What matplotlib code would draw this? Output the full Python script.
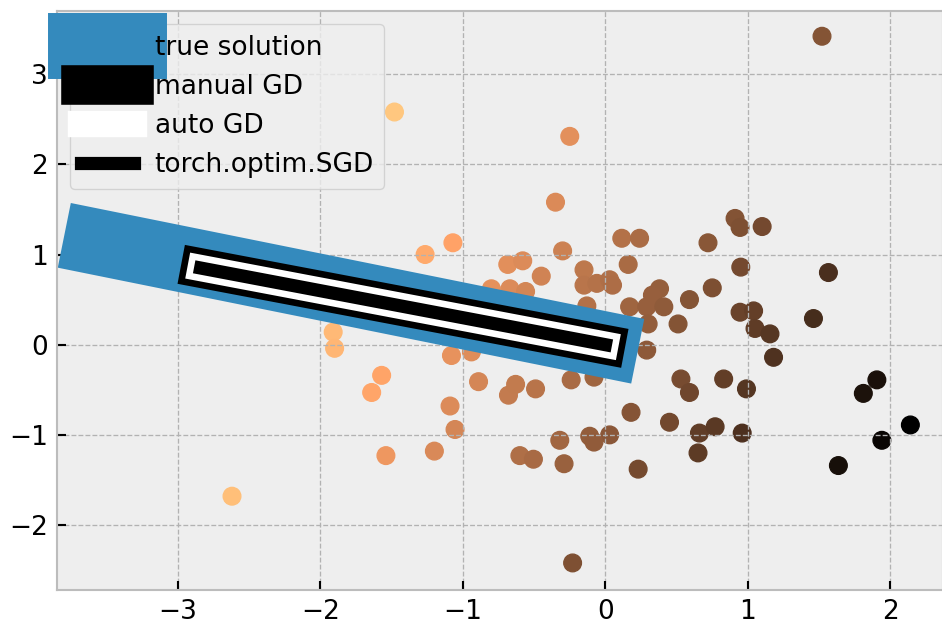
import matplotlib
matplotlib.use("Agg")
import matplotlib.pyplot as plt
import numpy as np

plt.style.use("bmh")

# scatter points
xs = [-1.48, -0.25, 1.52, -0.35, -1.07, -1.265, -0.685, -0.58, -0.30, -0.45,
      -0.15, 0.115, 0.24, 0.16, -0.15, -0.06, 0.03, 0.05, 0.38, 0.33,
      -0.80, -0.67, -0.56, -0.13, 0.17, 0.29, 0.41, 0.59, 0.91, 0.945,
      1.10, 0.72, 0.95, 1.565, 0.75, 0.945, 1.04, 1.05, 1.155, 1.46,
      1.18, 0.51, 0.30, 0.29, 0.53, 0.59, 0.83, 0.99, 1.905, 1.81,
      2.14, 1.94, 1.635, 0.18, 0.45, 0.66, 0.77, 0.96, 0.65, 0.23,
      0.03, -1.09, -1.055, -1.20, -1.54, -0.89, -0.68, -0.63, -0.49, -0.24,
      -0.08, -0.32, -0.60, -0.505, -0.29, -0.11, -0.08, -0.23, -1.64, -2.62,
      -1.91, -1.90, -1.08, -0.94, -1.57]
ys = [2.58, 2.31, 3.42, 1.58, 1.13, 1.00, 0.89, 0.93, 1.04, 0.76,
      0.83, 1.18, 1.18, 0.89, 0.66, 0.68, 0.72, 0.66, 0.62, 0.55,
      0.62, 0.62, 0.59, 0.43, 0.42, 0.42, 0.42, 0.50, 1.40, 1.30,
      1.31, 1.13, 0.86, 0.80, 0.63, 0.36, 0.375, 0.18, 0.12, 0.29,
      -0.14, 0.23, 0.23, -0.06, -0.38, -0.53, -0.38, -0.49, -0.39, -0.54,
      -0.89, -1.06, -1.34, -0.75, -0.86, -0.98, -0.91, -0.98, -1.20, -1.38,
      -1.00, -0.68, -0.94, -1.18, -1.23, -0.41, -0.56, -0.44, -0.49, -0.39,
      -0.36, -1.06, -1.23, -1.27, -1.32, -1.015, -1.08, -2.42, -0.53, -1.68,
      0.14, -0.04, -0.12, -0.08, -0.34]

# fitted lines (end points)
true_x = [-3.57, 0.0]
true_y = [1.14, 0.0]
gd_x = [-2.84, 0.0]
gd_y = [0.85, 0.0]

labels = ["true solution", "manual GD", "auto GD", "torch.optim.SGD"]

xs = np.array(xs)
ys = np.array(ys)
# colour by position along the solution direction
shade = xs - 0.317 * ys

fig = plt.figure(figsize=(943 / 190, 625 / 190), dpi=190)
ax = fig.add_axes([57 / 943, 1 - 590 / 625, 1 - 57 / 943, (590 - 11) / 625])

ax.scatter(xs, ys, c=shade, cmap="copper_r", s=45)
ax.plot(true_x, true_y, lw=25, color="#348ABD", label=labels[0])
ax.plot(gd_x, gd_y, lw=15, color="black", label=labels[1])
ax.plot(gd_x, gd_y, lw=10, color="white", label=labels[2])
ax.plot(gd_x, gd_y, lw=5, color="black", label=labels[3])

ax.set_xlim(-3.848, 2.369)
ax.set_ylim(-2.72, 3.70)
ax.set_xticks([-3, -2, -1, 0, 1, 2])
ax.set_yticks([-2, -1, 0, 1, 2, 3])
ax.legend(loc="upper left")

fig.savefig("out.png", dpi=190)
